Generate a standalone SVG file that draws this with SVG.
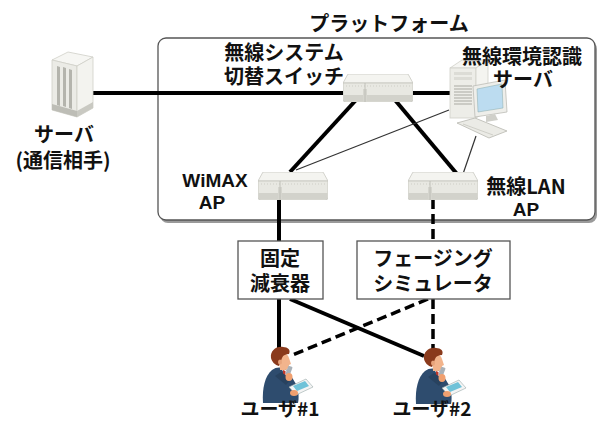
<svg xmlns="http://www.w3.org/2000/svg" xmlns:xlink="http://www.w3.org/1999/xlink" width="599" height="423" viewBox="0 0 599 423">
  <style>
    .t { font-family: "Noto Sans CJK JP", "Liberation Sans", sans-serif; font-weight: bold; font-size: 20px; fill: #111; text-anchor: middle; }
    .lat { font-family: "Liberation Sans", "Noto Sans CJK JP", sans-serif; font-size: 19px; }
    .thick { stroke: #000; stroke-width: 4; fill: none; }
    .dash { stroke: #000; stroke-width: 3.5; fill: none; stroke-dasharray: 10 5; }
    .thin { stroke: #333; stroke-width: 1.2; fill: none; }
    .box { fill: #fff; stroke: #555; stroke-width: 1.3; }
  </style>
  <defs>
    <!-- network device (switch / access point) -->
    <symbol id="netbox" viewBox="0 0 70 28">
      <polygon points="5,0 65,0 70,9 0,9" fill="#f4f4f0" stroke="#c9c9c2" stroke-width="0.8"/>
      <path d="M0,9 H70 V25 Q70,28 67,28 H3 Q0,28 0,25 Z" fill="#e8e8e2" stroke="#c4c4bc" stroke-width="0.8"/>
      <rect x="0.5" y="21" width="69" height="6.5" fill="#d2d2cb"/>
      <line x1="3" y1="12" x2="67" y2="12" stroke="#c8c8c0" stroke-width="0.8" stroke-dasharray="1 2"/>
      <rect x="20" y="15" width="4" height="13" fill="#d6d6cf"/>
      <line x1="22" y1="9" x2="22" y2="28" stroke="#b8b8b0" stroke-width="0.8"/>
    </symbol>
    <!-- user holding a phone and a tablet -->
    <symbol id="person" viewBox="0 0 52 58">
      <path d="M1,57 C0,42 3,30 10,24 C15,20 22,21 26,25 L34,38 C37,45 37,52 36,57 Z" fill="#2e4c6e"/>
      <path d="M19,22 L26,25 L24,31 Z" fill="#fff"/>
      <path d="M21,24 L23.5,25 L23.5,32 L21,30 Z" fill="#c0392b"/>
      <path d="M17,9 C20,6 26,7 27,12 L29,18 L27,19 C27,22 25,24 22,24 L18,24 Z" fill="#f2b48c"/>
      <path d="M9,12 C8,5 14,0 21,1 C26,1 29,4 27,8 C24,8 21,9 20,12 C19,15 18,17 17,20 C13,19 10,16 9,12 Z" fill="#8a3a1c"/>
      <ellipse cx="18" cy="16" rx="2" ry="2.5" fill="#e8a47c"/>
      <path d="M13,30 L24,39 L29,33 L19,26 Z" fill="#28425f"/>
      <rect x="25" y="20" width="4.5" height="9" rx="1" fill="#a9b1b8" transform="rotate(20 27 24)"/>
      <ellipse cx="27" cy="31" rx="3.5" ry="4" fill="#f0a070"/>
      <polygon points="27,41 44,33 51,41 34,49" fill="#f4f4f4" stroke="#9aa" stroke-width="0.6"/>
      <polygon points="31,40 43,35 47,40 35,45" fill="#6fc2d8"/>
      <ellipse cx="32" cy="47" rx="4" ry="3" fill="#f0a070"/>
    </symbol>
  </defs>

  <!-- platform frame -->
  <g id="platform">
    <rect x="160" y="41" width="437" height="182" rx="8" fill="#9a9a9a"/>
    <rect x="158" y="38" width="437" height="182" rx="8" class="box"/>
    <text x="389" y="31" class="t">プラットフォーム</text>
  </g>

  <!-- connectors -->
  <g id="connectors">
    <line x1="90" y1="93" x2="345" y2="93" class="thick"/>
    <line x1="410" y1="93" x2="452" y2="93" class="thick"/>
    <line x1="356" y1="100" x2="290" y2="172" class="thick"/>
    <line x1="395" y1="100" x2="457" y2="174" class="thick"/>
    <line x1="449" y1="110" x2="296" y2="170" class="thin"/>
    <line x1="476" y1="136" x2="463" y2="174" class="thin"/>
    <line x1="279" y1="199" x2="279" y2="241" class="thick"/>
    <line x1="433" y1="199" x2="433" y2="241" class="dash"/>
    <line x1="279" y1="299" x2="279" y2="352" class="thick"/>
    <line x1="290" y1="299" x2="424" y2="356" class="thick"/>
    <line x1="433" y1="299" x2="433" y2="352" class="dash"/>
    <line x1="428" y1="299" x2="290" y2="356" class="dash"/>
  </g>

  <!-- peer server -->
  <g id="peer-server">
    <polygon points="52,60 68,52 93,57 77,66" fill="#f6f6f3" stroke="#cfcfc8" stroke-width="0.8"/>
    <polygon points="52,60 77,66 77,117 52,110" fill="#ebebe6" stroke="#cfcfc8" stroke-width="0.8"/>
    <polygon points="77,66 93,57 93,108 77,117" fill="#f3f3ef" stroke="#cfcfc8" stroke-width="0.8"/>
    <polygon points="52,104 77,111 77,117 52,110" fill="#bdbdb6"/>
    <polygon points="77,111 93,102 93,108 77,117" fill="#c9c9c2"/>
    <polygon points="57,66 60,67 60,106 57,105" fill="#b4b4ad"/>
    <polygon points="63,67 66,68 66,107 63,106" fill="#b4b4ad"/>
    <polygon points="69,69 72,70 72,109 69,108" fill="#b4b4ad"/>
    <text class="t"><tspan x="64" y="142">サーバ</tspan><tspan x="63" y="168">(通信相手)</tspan></text>
  </g>

  <!-- radio system switch -->
  <g id="switch">
    <use xlink:href="#netbox" x="343" y="74" width="70" height="28"/>
    <text class="t"><tspan x="284" y="60">無線システム</tspan><tspan x="284" y="84">切替スイッチ</tspan></text>
  </g>

  <!-- radio environment recognition server -->
  <g id="env-server">
    <polygon points="450,68 462,60 488,60 476,68" fill="#f6f6f3" stroke="#cfcfc8" stroke-width="0.8"/>
    <rect x="450" y="68" width="26" height="50" fill="#ededE8" stroke="#cfcfc8" stroke-width="0.8"/>
    <polygon points="476,68 488,60 488,110 476,118" fill="#f4f4f0" stroke="#cfcfc8" stroke-width="0.8"/>
    <g stroke="#a9a9a2" stroke-width="1">
      <line x1="454" y1="86" x2="472" y2="86"/>
      <line x1="454" y1="89" x2="472" y2="89"/>
      <line x1="454" y1="92" x2="472" y2="92"/>
      <line x1="454" y1="95" x2="472" y2="95"/>
      <line x1="454" y1="98" x2="472" y2="98"/>
      <line x1="454" y1="101" x2="472" y2="101"/>
      <line x1="454" y1="104" x2="472" y2="104"/>
    </g>
    <rect x="454" y="72" width="18" height="3" fill="#dcdcd6"/>
    <rect x="454" y="77" width="18" height="3" fill="#dcdcd6"/>
    <polygon points="473,86 505,80 507,112 475,117" fill="#eeeeea" stroke="#bdbdb6" stroke-width="0.8"/>
    <polygon points="477,89 502,84 503,108 478,112" fill="#bcdcf0" stroke="#8aa" stroke-width="0.5"/>
    <polygon points="486,116 495,114 498,120 486,122" fill="#d0d0ca"/>
    <polygon points="457,123 475,118 507,131 489,138" fill="#ebebe6" stroke="#b8b8b0" stroke-width="0.8"/>
    <line x1="463" y1="124" x2="493" y2="135" stroke="#c8c8c0" stroke-width="0.8"/>
    <text class="t"><tspan x="522" y="64">無線環境認識</tspan><tspan x="523" y="87">サーバ</tspan></text>
  </g>

  <!-- WiMAX access point -->
  <g id="wimax-ap">
    <use xlink:href="#netbox" x="258" y="172" width="70" height="28"/>
    <text class="t lat"><tspan x="215" y="187">WiMAX</tspan><tspan x="212" y="209">AP</tspan></text>
  </g>

  <!-- wireless LAN access point -->
  <g id="wlan-ap">
    <use xlink:href="#netbox" x="408" y="172" width="70" height="28"/>
    <text class="t"><tspan x="526" y="194">無線LAN</tspan></text>
    <text class="t lat" x="526" y="216">AP</text>
  </g>

  <!-- fixed attenuator -->
  <g id="attenuator">
    <rect x="238" y="241" width="85" height="58" class="box"/>
    <text class="t"><tspan x="280" y="266">固定</tspan><tspan x="280" y="291">減衰器</tspan></text>
  </g>

  <!-- fading simulator -->
  <g id="fading-sim">
    <rect x="357" y="241" width="153" height="58" class="box"/>
    <text class="t"><tspan x="433" y="266">フェージング</tspan><tspan x="433" y="291">シミュレータ</tspan></text>
  </g>

  <!-- users -->
  <g id="user1">
    <use xlink:href="#person" x="262" y="346" width="52" height="58"/>
    <text x="280" y="416" class="t" style="font-size:19px">ユーザ#1</text>
  </g>
  <g id="user2">
    <use xlink:href="#person" x="415" y="347" width="52" height="58"/>
    <text x="432" y="416" class="t" style="font-size:19px">ユーザ#2</text>
  </g>
</svg>
